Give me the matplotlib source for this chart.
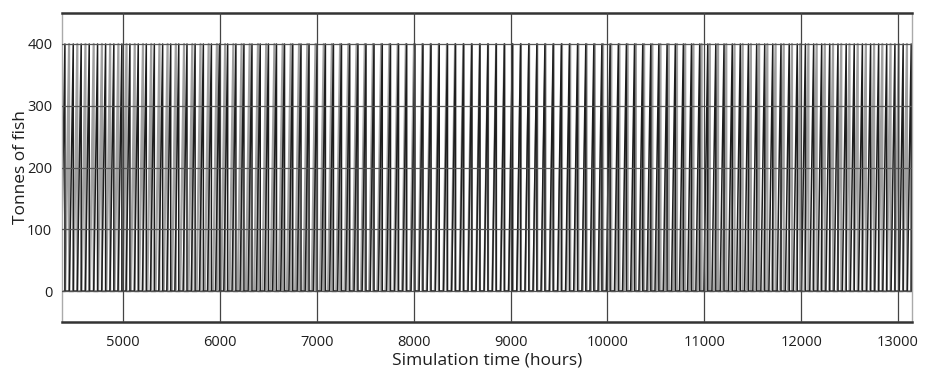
import matplotlib
matplotlib.use("Agg")
from matplotlib import pyplot as plt

# harvest times (hours), one per spike
black_harvests = [
    4400, 4486, 4568, 4651, 4737, 4820, 4905, 4988, 5071, 5157,
    5240, 5323, 5409, 5492, 5575, 5660, 5744, 5829, 5912, 5995,
    6080, 6165, 6248, 6331, 6416, 6501, 6584, 6667, 6752, 6837,
    6920, 7004, 7089, 7172, 7255, 7340, 7425, 7508, 7591, 7676,
    7761, 7844, 7928, 8013, 8096, 8179, 8264, 8349, 8432, 8516,
    8601, 8684, 8767, 8852, 8937, 9020, 9104, 9189, 9272, 9355,
    9440, 9525, 9608, 9692, 9777, 9860, 9943, 10028, 10113, 10196,
    10280, 10365, 10448, 10531, 10616, 10701, 10784, 10868, 10953, 11036,
    11119, 11204, 11289, 11372, 11456, 11541, 11624, 11707, 11792, 11877,
    11960, 12044, 12129, 12212, 12295, 12380, 12465, 12548, 12632, 12717,
    12800, 12883, 12968, 13053, 13136,
]
grey_harvests = [
    4358, 4443, 4528, 4612, 4697, 4782, 4867, 4952, 5036, 5121,
    5206, 5291, 5376, 5460, 5545, 5630, 5715, 5800, 5884, 5969,
    6054, 6139, 6224, 6308, 6393, 6478, 6563, 6648, 6732, 6817,
    6902, 6987, 7072, 7156, 7241, 7326, 7411, 7496, 7580, 7665,
    7750, 7835, 7920, 8004, 8089, 8174, 8259, 8344, 8428, 8513,
    8598, 8683, 8768, 8852, 8937, 9022, 9107, 9192, 9276, 9361,
    9446, 9531, 9616, 9700, 9785, 9870, 9955, 10040, 10124, 10209,
    10294, 10379, 10464, 10548, 10633, 10718, 10803, 10888, 10972, 11057,
    11142, 11227, 11312, 11396, 11481, 11566, 11651, 11736, 11820, 11905,
    11990, 12075, 12160, 12244, 12329, 12414, 12499, 12584, 12668, 12753,
    12838, 12923, 13008, 13092, 13177,
]
peak_tonnes = 400
empty_tonnes = 0
grow_hours = 40  # stocking ramp before each harvest

x_ticks = [5000, 6000, 7000, 8000, 9000, 10000, 11000, 12000, 13000]
y_ticks = [0, 100, 200, 300, 400]


def spike_series(harvests):
    """Builds the stock curve: ramp up to the peak, then drop at harvest."""
    t, v = [], []
    for h in harvests:
        t += [h - grow_hours, h, h]
        v += [empty_tonnes, peak_tonnes, empty_tonnes]
    return t, v


def main():
    plt.rcParams['font.family'] = ['Open Sans', 'DejaVu Sans']
    fig = plt.figure(figsize=(9.27, 3.74), dpi=100)
    ax = fig.add_axes([0.0669, 0.139, 0.9169, 0.826])

    for y in y_ticks:
        ax.axhline(y, color="#555555", lw=0.9, zorder=3)
    for x in x_ticks:
        ax.axvline(x, color="#444444", lw=0.9, zorder=3)

    gt, gv = spike_series(grey_harvests)
    bt, bv = spike_series(black_harvests)
    ax.plot(gt, gv, color="#a0a0a0", lw=1.6, zorder=1)
    ax.plot(bt, bv, color="#1e1e1e", lw=1.1, zorder=2)

    ax.set_xlim(4370, 13144)
    ax.set_ylim(-50, 450)
    ax.set_xticks(x_ticks)
    ax.set_yticks(y_ticks)
    ax.tick_params(length=0, labelsize=10.5, colors="#1e1e1e")
    ax.tick_params(axis="x", pad=9)
    ax.tick_params(axis="y", pad=7)
    ax.set_xlabel("Simulation time (hours)", fontsize=12.5, color="#1e1e1e",
                  labelpad=2)
    ax.set_ylabel("Tonnes of fish", fontsize=12.5, color="#1e1e1e",
                  labelpad=-1)

    for side in ["top", "bottom"]:
        ax.spines[side].set_linewidth(1.8)
        ax.spines[side].set_color("#333333")
    for side in ["left", "right"]:
        ax.spines[side].set_linewidth(1.0)
        ax.spines[side].set_color("#aaaaaa")

    fig.savefig("out.png", dpi=100)


if __name__ == "__main__":
    main()
